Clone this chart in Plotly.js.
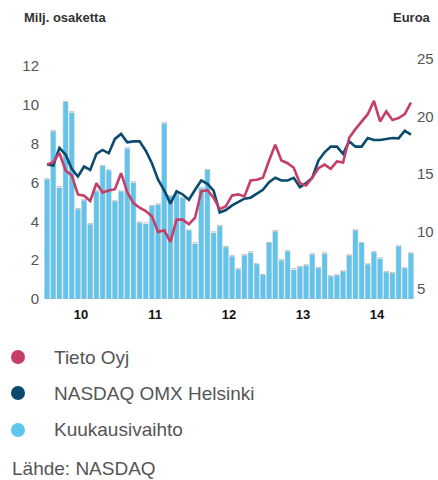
<!DOCTYPE html>
<html>
<head>
<meta charset="utf-8">
<script src="https://cdn.plot.ly/plotly-3.0.1.min.js"></script>
<style>
  html, body { margin: 0; padding: 0; background: #fff; }
  #chart { width: 438px; height: 480px; }
</style>
</head>
<body>
<div id="chart"></div>
<script>
// Months Jan 2010 .. Dec 2014
const years = ['2010', '2011', '2012', '2013', '2014'];
const months = [];
years.forEach(y => { for (let m = 1; m <= 12; m++) months.push(y + '-' + String(m).padStart(2, '0')); });

// Monthly turnover, million shares (left axis)
const turnover = [
  6.16, 8.64, 5.73, 10.15, 9.6, 4.62, 5.08, 3.84, 5.54, 6.85, 6.63, 5.03,
  5.54, 7.75, 5.99, 3.93, 3.87, 4.79, 4.86, 9.04, 5.3, 5.4, 5.2, 3.53,
  2.84, 5.7, 6.65, 3.41, 3.75, 2.67, 2.19, 1.52, 2.24, 2.38, 1.79, 1.24,
  2.89, 3.48, 1.98, 2.45, 1.50, 1.64, 1.72, 2.29, 1.59, 2.33, 1.17, 1.21,
  1.42, 2.24, 3.53, 2.89, 1.78, 2.41, 2.07, 1.38, 1.33, 2.71, 1.59, 2.35
];

// Tieto Oyj share price, EUR (right axis)
const tieto = [
  15.82, 16.02, 16.83, 15.30, 14.87, 13.22, 13.11, 12.65, 14.2, 13.4, 13.57, 13.68,
  15.07, 13.43, 12.47, 12.07, 11.78, 11.32, 9.96, 10.1, 9.1, 11.03, 11.03, 10.63,
  11.2, 13.5, 13.6, 12.94, 11.95, 12.2, 13.14, 13.23, 13.05, 14.44, 14.5, 14.67,
  16.17, 17.55, 16.17, 15.94, 15.54, 14.2, 14.0, 14.67, 15.5, 15.82, 15.45, 16.1,
  16.0, 18.15, 18.9, 19.57, 20.2, 21.36, 19.57, 20.44, 19.7, 19.87, 20.2, 21.2
];

// NASDAQ OMX Helsinki, scaled to Tieto (right axis)
const omx = [
  15.82, 15.74, 17.27, 16.69, 15.45, 14.78, 15.65, 15.36, 16.75, 17.09, 16.8, 18.05,
  18.48, 17.76, 17.84, 17.84, 17.03, 15.94, 14.5, 13.57, 12.42, 13.5, 13.22, 12.76,
  13.63, 14.44, 14.15, 13.55, 11.65, 11.87, 12.27, 12.56, 12.85, 12.94, 13.28, 13.63,
  14.29, 14.67, 14.44, 14.44, 14.67, 13.86, 14.2, 14.67, 16.17, 16.89, 17.38, 17.38,
  16.75, 17.84, 17.38, 17.38, 18.13, 17.96, 17.96, 18.05, 18.13, 18.1, 18.77, 18.42
];

const yearLabels = ['10', '11', '12', '13', '14'];
const leftTicks = [0, 2, 4, 6, 8, 10, 12];
const rightTicks = [5, 10, 15, 20, 25];
const seriesNames = ['Tieto Oyj', 'NASDAQ OMX Helsinki', 'Kuukausivaihto'];
const seriesColors = ['#c43e68', '#0b4a6e', '#5ec5ee'];

const idx = months.map((m, i) => i);
const yearTickPos = yearLabels.map((y, k) => k * 12 + 5.5);

const traces = [
  {
    type: 'bar', x: idx, y: turnover, name: seriesNames[2], text: months,
    marker: { color: seriesColors[2], line: { color: '#a9b8c0', width: 0.5 } },
    width: 0.78, yaxis: 'y', hoverinfo: 'text+y', showlegend: false
  },
  {
    type: 'scatter', mode: 'lines', x: idx, y: omx, name: seriesNames[1],
    line: { color: seriesColors[1], width: 2.6 }, yaxis: 'y2', showlegend: false
  },
  {
    type: 'scatter', mode: 'lines', x: idx, y: tieto, name: seriesNames[0],
    line: { color: seriesColors[0], width: 2.6 }, yaxis: 'y2', showlegend: false
  }
];

// pixel helpers for the legend placed below the plot
const L = 44, R = 24, T = 50, B = 181, W = 438, H = 480;
const pw = W - L - R, ph = H - T - B;
const px = v => (v - L) / pw;
const py = v => (H - B - v) / ph;

const legendRows = [357, 393, 430];
const shapes = seriesNames.map((n, k) => ({
  type: 'circle', xref: 'paper', yref: 'paper',
  xsizemode: 'pixel', ysizemode: 'pixel',
  xanchor: px(18), yanchor: py(legendRows[k]),
  x0: -7, x1: 7, y0: -7, y1: 7,
  fillcolor: seriesColors[k], line: { width: 0 }
}));

const annotations = seriesNames.map((n, k) => ({
  xref: 'paper', yref: 'paper', x: px(52), y: py(legendRows[k]),
  xanchor: 'left', yanchor: 'middle', showarrow: false, text: n,
  font: { family: 'Liberation Sans, Arial, sans-serif', size: 19, color: '#555' }
}));
annotations.push({
  xref: 'paper', yref: 'paper', x: px(10), y: py(468),
  xanchor: 'left', yanchor: 'middle', showarrow: false, text: 'Lähde: NASDAQ',
  font: { family: 'Liberation Sans, Arial, sans-serif', size: 19, color: '#555' }
});
annotations.push({
  xref: 'paper', yref: 'paper', x: px(22), y: py(18),
  xanchor: 'left', yanchor: 'middle', showarrow: false, text: '<b>Milj. osaketta</b>',
  font: { family: 'Liberation Sans, Arial, sans-serif', size: 13, color: '#333' }
});
annotations.push({
  xref: 'paper', yref: 'paper', x: px(433), y: py(18),
  xanchor: 'right', yanchor: 'middle', showarrow: false, text: '<b>Euroa</b>',
  font: { family: 'Liberation Sans, Arial, sans-serif', size: 13, color: '#333' }
});

const layout = {
  width: W, height: H,
  margin: { l: L, r: R, t: T, b: B, pad: 0 },
  paper_bgcolor: '#fff', plot_bgcolor: '#fff',
  showlegend: false,
  bargap: 0.2,
  xaxis: {
    range: [-0.5, 59.5], tickmode: 'array', tickvals: yearTickPos, ticktext: yearLabels,
    showgrid: false, zeroline: false, showline: false, ticks: '',
    ticklabelstandoff: 6,
    tickfont: { family: 'Liberation Sans, Arial, sans-serif', size: 13, color: '#111', weight: 'bold' }
  },
  yaxis: {
    range: [0, ph / 19.4], tickmode: 'array', tickvals: leftTicks,
    showgrid: false, zeroline: false, showline: false, ticks: '',
    ticklabelstandoff: 4,
    tickfont: { family: 'Liberation Sans, Arial, sans-serif', size: 15, color: '#555' }
  },
  yaxis2: {
    overlaying: 'y', side: 'right',
    range: [5 - 10 / 11.5, 5 + (289 - T) / 11.5], tickmode: 'array', tickvals: rightTicks,
    showgrid: false, zeroline: false, showline: false, ticks: '',
    ticklabelstandoff: 2,
    tickfont: { family: 'Liberation Sans, Arial, sans-serif', size: 15, color: '#555' }
  },
  shapes: shapes,
  annotations: annotations
};

Plotly.newPlot('chart', traces, layout, { displayModeBar: false, staticPlot: true });
</script>
</body>
</html>
